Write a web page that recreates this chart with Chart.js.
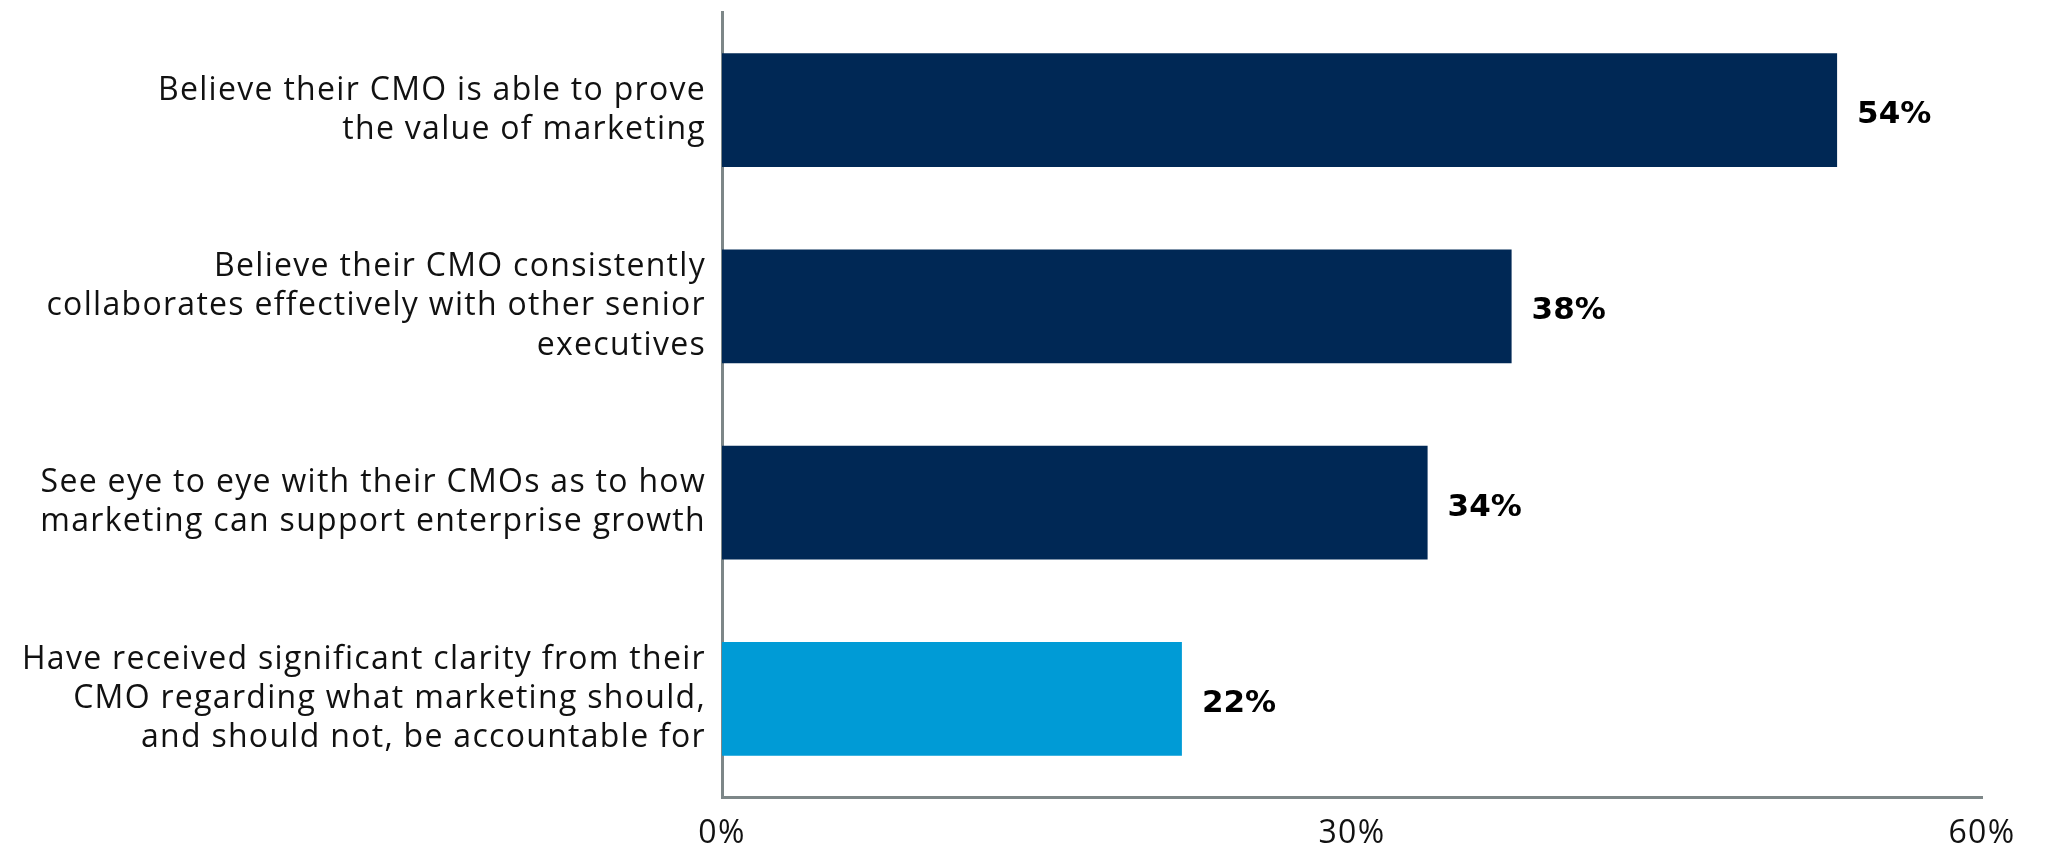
<!DOCTYPE html>
<html>
<head>
<meta charset="utf-8">
<script src="https://cdn.jsdelivr.net/npm/chart.js@4"></script>
<style>
  html, body { margin: 0; padding: 0; background: #fff; }
  #wrap { width: 2059px; height: 849px; position: relative; }
</style>
</head>
<body>
<div id="wrap"><canvas id="cmoChart"></canvas></div>
<script>
const categories = [
  ['Believe their CMO is able to prove', 'the value of marketing'],
  ['Believe their CMO consistently', 'collaborates effectively with other senior', 'executives'],
  ['See eye to eye with their CMOs as to how', 'marketing can support enterprise growth'],
  ['Have received significant clarity from their', 'CMO regarding what marketing should,', 'and should not, be accountable for']
];
const shares = [53.1, 37.6, 33.6, 21.9];
const shareLabels = ['54%', '38%', '34%', '22%'];
const tickValues = [0, 30, 60];
const barColors = ['#002855', '#002855', '#002855', '#009bd6'];

// axis text in the original is set a little looser than Open Sans
const looseText = {
  id: 'looseText',
  beforeDraw(chart) {
    chart.ctx.letterSpacing = '1.3px';
  }
};

// writes the percentage just past the end of each bar
const valueLabels = {
  id: 'valueLabels',
  afterDatasetsDraw(chart) {
    const ctx = chart.ctx;
    const meta = chart.getDatasetMeta(0);
    ctx.save();
    ctx.letterSpacing = '0px';
    ctx.font = 'bold 31px "DejaVu Sans"';
    ctx.fillStyle = '#000';
    ctx.textAlign = 'left';
    ctx.textBaseline = 'middle';
    meta.data.forEach((bar, i) => {
      ctx.fillText(shareLabels[i], bar.x + 20, bar.y + 5);
    });
    ctx.restore();
  }
};

const ctx = document.getElementById('cmoChart').getContext('2d');

const cmoChart = new Chart(ctx, {
  type: 'bar',
  data: {
    labels: categories,
    datasets: [{
      data: shares,
      backgroundColor: barColors,
      barPercentage: 0.58,
      categoryPercentage: 1
    }]
  },
  options: {
    indexAxis: 'y',
    responsive: true,
    maintainAspectRatio: false,
    animation: false,
    layout: {
      padding: { top: 12, right: 77, left: 0, bottom: 0 }
    },
    plugins: {
      legend: { display: false },
      tooltip: { enabled: false }
    },
    scales: {
      x: {
        min: 0,
        max: 60,
        afterBuildTicks: (scale) => {
          scale.ticks = tickValues.map(v => ({ value: v }));
        },
        afterFit: (scale) => {
          scale.height = 52;
          scale.paddingLeft = 0;
          scale.paddingRight = 0;
        },
        grid: { display: false, drawTicks: false },
        border: { display: true, color: '#7d8788', width: 3 },
        ticks: {
          padding: 18,
          color: '#111',
          font: { family: 'Open Sans', size: 32 },
          callback: (v) => v + '%'
        }
      },
      y: {
        afterFit: (scale) => {
          scale.width = 722;
          scale.paddingTop = 0;
          scale.paddingBottom = 0;
        },
        grid: { display: false, drawTicks: false },
        border: { display: true, color: '#7d8788', width: 3 },
        ticks: {
          padding: 16,
          color: '#111',
          font: { family: 'Open Sans', size: 32, lineHeight: 1.22 }
        }
      }
    }
  },
  plugins: [looseText, valueLabels]
});
</script>
</body>
</html>
